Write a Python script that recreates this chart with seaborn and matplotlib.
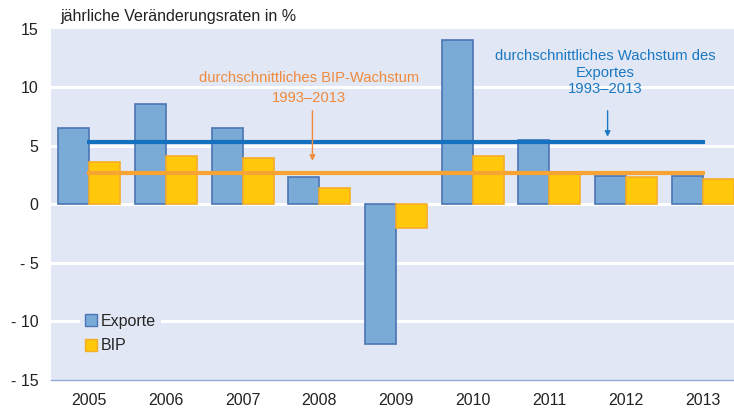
import numpy as np
import pandas as pd
import seaborn as sns
import matplotlib.pyplot as plt

# Data
years = ['2005', '2006', '2007', '2008', '2009', '2010', '2011', '2012', '2013']
exporte = [6.5, 8.6, 6.5, 2.3, -12.0, 14.1, 5.5, 2.4, 2.4]
bip = [3.6, 4.1, 4.0, 1.4, -2.0, 4.1, 2.8, 2.3, 2.2]
avg_exporte = 5.3
avg_bip = 2.7
y_ticks = [-15, -10, -5, 0, 5, 10, 15]
y_labels = ['- 15', '- 10', '- 5', '0', '5', '10', '15']

df = pd.DataFrame({
    'Jahr': years * 2,
    'Wert': exporte + bip,
    'Serie': ['Exporte'] * len(years) + ['BIP'] * len(years),
})

sns.set_style('white')
plt.rcParams['font.family'] = ['Liberation Sans', 'DejaVu Sans']

fig = plt.figure(figsize=(7.34, 4.16), dpi=100)
ax = fig.add_axes([51 / 734, 1 - 379.5 / 416, 690 / 734, 350.5 / 416])
ax.set_facecolor('#e1e7f4')

# Grid lines
for yv in y_ticks[1:-1]:
    ax.axhline(yv, color='white', lw=2.2, zorder=0.5)

sns.barplot(data=df, x='Jahr', y='Wert', hue='Serie', width=0.81,
            palette={'Exporte': '#7aaad6', 'BIP': '#ffc80a'},
            saturation=1, ax=ax, zorder=2)
edge = {'Exporte': '#4a74b4', 'BIP': '#f5ae2a'}
for cont, name in zip(ax.containers, ['Exporte', 'BIP']):
    for bar in cont:
        bar.set_edgecolor(edge[name])
        bar.set_linewidth(1.2)

pos = np.arange(len(years))
sns.lineplot(x=pos, y=np.full(len(years), avg_exporte), color='#1471bf',
             lw=3, marker='s', markersize=3, markeredgewidth=0, ax=ax, zorder=3)
sns.lineplot(x=pos, y=np.full(len(years), avg_bip), color='#f7a435',
             lw=3, marker='s', markersize=3, markeredgewidth=0, ax=ax, zorder=3)

ax.set_xlim(-0.5, len(years) - 0.5)
ax.set_ylim(-15, 15)
ax.set_xlabel('')
ax.set_ylabel('')
ax.set_yticks(y_ticks)
ax.set_yticklabels(y_labels, fontsize=11.5, color='#222222')
ax.set_xticks(pos)
ax.set_xticklabels(years, fontsize=11.5, color='#222222')
ax.set_xticks(pos - 0.5, minor=True)
ax.tick_params(axis='x', which='major', length=0, pad=10)
ax.tick_params(axis='x', which='minor', length=5, color='#8eaad8', width=1)
ax.tick_params(axis='y', length=0, pad=9)

for s in ['top', 'right', 'left']:
    ax.spines[s].set_visible(False)
ax.spines['bottom'].set_color('#8eaad8')
ax.spines['bottom'].set_linewidth(1)

# Annotations
orange = '#f08a3c'
blue = '#1a78c2'
ax.text(2.87, 9.97, 'durchschnittliches BIP-Wachstum\n1993\u20132013', ha='center', va='center',
        fontsize=10.6, color=orange, linespacing=1.55)
ax.annotate('', xy=(2.91, 3.72), xytext=(2.91, 8.0),
            arrowprops=dict(arrowstyle='-|>', color=orange, lw=1, mutation_scale=8,
                            shrinkA=0, shrinkB=0))
ax.text(6.73, 11.26, 'durchschnittliches Wachstum des\nExportes\n1993\u20132013', ha='center',
        va='center', fontsize=10.7, color=blue, linespacing=1.22)
ax.annotate('', xy=(6.76, 5.78), xytext=(6.76, 8.0),
            arrowprops=dict(arrowstyle='-|>', color=blue, lw=1, mutation_scale=8,
                            shrinkA=0, shrinkB=0))

fig.text(60 / 734, 1 - 17 / 416, 'jährliche Veränderungsraten in %', fontsize=11.5,
         color='#222222', va='center', ha='left')

leg = ax.legend(loc='lower left', bbox_to_anchor=(0.031, 0.038), frameon=True,
                facecolor='#e1e7f4', edgecolor='none', fontsize=11.5,
                handlelength=0.75, handleheight=0.75, handletextpad=0.25,
                labelspacing=0.6, borderpad=0.3, framealpha=1)
for h, name in zip(leg.legend_handles, ['Exporte', 'BIP']):
    h.set_edgecolor(edge[name])

fig.savefig('out.png', dpi=100)
